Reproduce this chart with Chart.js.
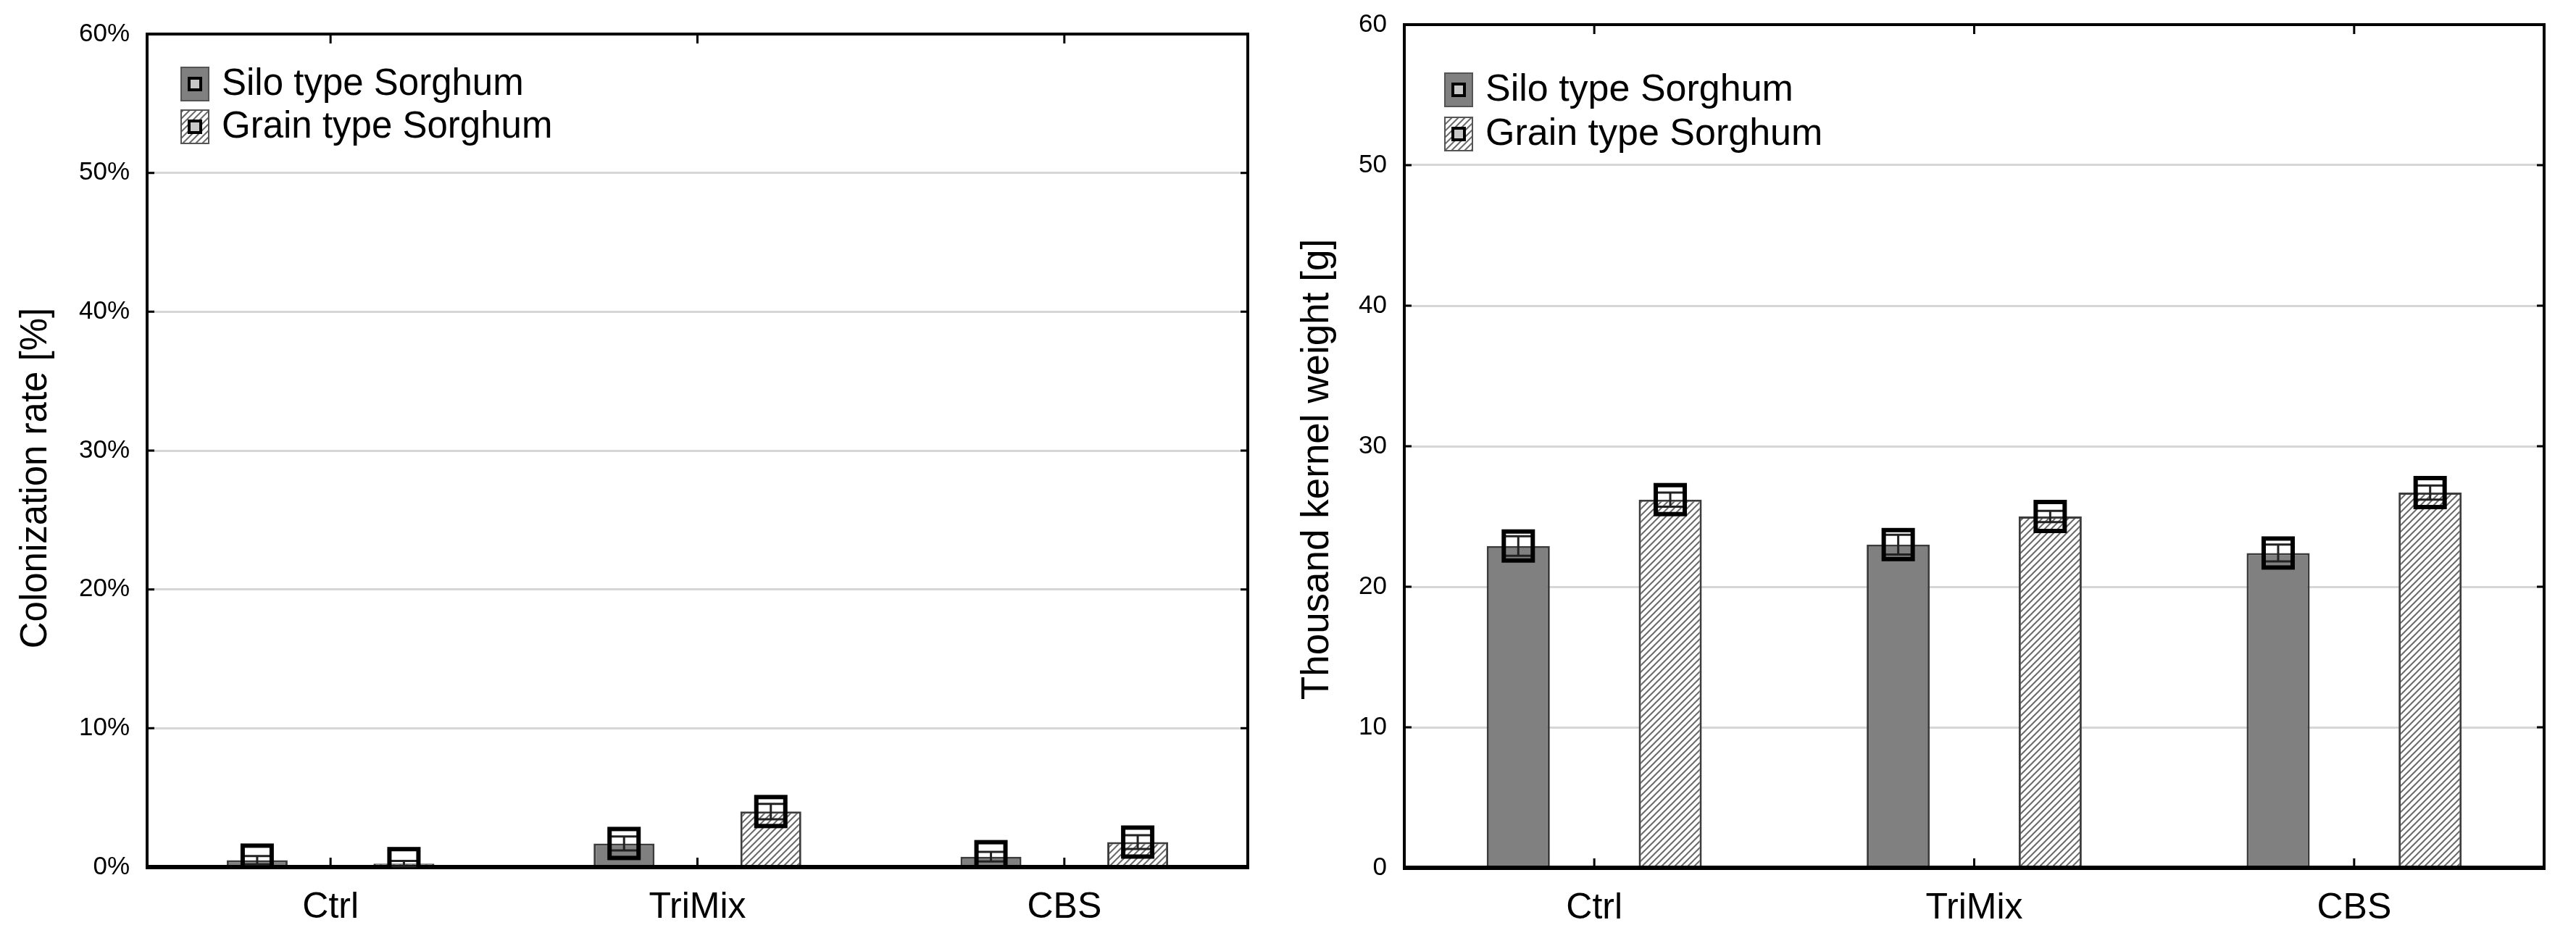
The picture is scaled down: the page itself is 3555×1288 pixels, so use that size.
<!DOCTYPE html>
<html>
<head>
<meta charset="utf-8">
<script src="https://cdn.jsdelivr.net/npm/chart.js@4.4.1/dist/chart.umd.min.js"></script>
<style>
  html, body { margin: 0; padding: 0; background: #fff; }
  #left { position: absolute; left: 0; top: 0; width: 1770px; height: 1288px; }
  #right { position: absolute; left: 1770px; top: 0; width: 1785px; height: 1288px; }
</style>
</head>
<body>
<div id="left"><canvas id="colonization-chart"></canvas></div>
<div id="right"><canvas id="weight-chart"></canvas></div>
<script>
// Categories and series
const treatments = ["Ctrl", "TriMix", "CBS"];
const seriesNames = ["Silo type Sorghum", "Grain type Sorghum"];

// Colonization rate [%] (mean and SE)
const siloColonization = [0.5, 1.7, 0.75];
const grainColonization = [0.25, 4.0, 1.8];
const siloColonizationSE = [0.3, 0.5, 0.35];
const grainColonizationSE = [0.2, 0.55, 0.5];
const colonizationTicks = [0, 10, 20, 30, 40, 50, 60];

// Thousand kernel weight [g] (mean and SE)
const siloWeight = [22.9, 23.0, 22.4];
const grainWeight = [26.2, 25.0, 26.7];
const siloWeightSE = [0.7, 0.7, 0.6];
const grainWeightSE = [0.5, 0.4, 0.5];
const weightTicks = [0, 10, 20, 30, 40, 50, 60];

const FONT = "'Liberation Sans', Arial, sans-serif";

// diagonal hatch for the grain type bars
function makeHatch() {
  const c = document.createElement("canvas");
  c.width = 9;
  c.height = 9;
  const g = c.getContext("2d");
  g.fillStyle = "#ffffff";
  g.fillRect(0, 0, 9, 9);
  g.strokeStyle = "#6a6a6a";
  g.lineWidth = 2;
  g.beginPath();
  g.moveTo(0, 9); g.lineTo(9, 0);
  g.moveTo(-3, 3); g.lineTo(3, -3);
  g.moveTo(6, 12); g.lineTo(12, 6);
  g.stroke();
  return g.createPattern(c, "repeat");
}
const hatch = makeHatch();

// frame, inner tick marks, mean markers with SE whiskers, legend and axis title
const sketchPlugin = {
  id: "sketch",
  afterDatasetsDraw(chart, args, opts) {
    const ctx = chart.ctx;
    const a = chart.chartArea;
    const x = chart.scales.x;
    const y = chart.scales.y;

    ctx.save();
    ctx.strokeStyle = "#000";
    ctx.lineWidth = 3;
    ctx.beginPath();
    y.ticks.forEach((t, i) => {
      if (t.value === y.min || t.value === y.max) return;
      const py = y.getPixelForTick(i);
      ctx.moveTo(a.left, py); ctx.lineTo(a.left + 10, py);
      ctx.moveTo(a.right, py); ctx.lineTo(a.right - 10, py);
    });
    x.ticks.forEach((t, i) => {
      const px = x.getPixelForTick(i);
      ctx.moveTo(px, a.bottom); ctx.lineTo(px, a.bottom - 13);
      ctx.moveTo(px, a.top); ctx.lineTo(px, a.top + 13);
    });
    ctx.stroke();

    ctx.lineWidth = 4;
    ctx.strokeRect(a.left, a.top, a.right - a.left, a.bottom - a.top);
    ctx.lineWidth = 6;
    ctx.beginPath();
    ctx.moveTo(a.left - 2, a.bottom);
    ctx.lineTo(a.right + 2, a.bottom);
    ctx.stroke();

    // mean markers
    ctx.beginPath();
    ctx.rect(a.left, a.top, a.right - a.left, a.bottom - a.top + 3);
    ctx.clip();
    chart.data.datasets.forEach((ds, di) => {
      const meta = chart.getDatasetMeta(di);
      meta.data.forEach((bar, i) => {
        const v = ds.data[i];
        const se = ds.se[i];
        const cx = bar.x;
        const cy = y.getPixelForValue(v);
        const hi = y.getPixelForValue(v + se);
        const lo = y.getPixelForValue(v - se);
        ctx.strokeStyle = "#222";
        ctx.lineWidth = 3;
        ctx.beginPath();
        ctx.moveTo(cx - 19, hi); ctx.lineTo(cx + 19, hi);
        ctx.moveTo(cx - 19, lo); ctx.lineTo(cx + 19, lo);
        ctx.moveTo(cx, hi); ctx.lineTo(cx, lo);
        ctx.stroke();
        ctx.strokeStyle = "#000";
        ctx.lineWidth = 6;
        ctx.strokeRect(cx - 20, cy - 20, 40, 40);
      });
    });
    ctx.restore();
  },
  afterDraw(chart, args, opts) {
    const ctx = chart.ctx;
    const a = chart.chartArea;
    ctx.save();
    chart.data.datasets.forEach((ds, i) => {
      const cy = a.top + opts.firstRow + i * opts.rowGap;
      const bx = a.left + opts.boxLeft;
      ctx.fillStyle = ds.backgroundColor;
      ctx.fillRect(bx, cy - 23, 38, 46);
      ctx.strokeStyle = "#555";
      ctx.lineWidth = 2;
      ctx.strokeRect(bx, cy - 23, 38, 46);
      ctx.fillStyle = "#c8c8c8";
      ctx.fillRect(bx + 11, cy - 8, 16, 16);
      ctx.strokeStyle = "#000";
      ctx.lineWidth = 4;
      ctx.strokeRect(bx + 11, cy - 8, 16, 16);
      ctx.fillStyle = "#000";
      ctx.font = opts.legendSize + "px " + FONT;
      ctx.textBaseline = "middle";
      ctx.textAlign = "left";
      ctx.fillText(ds.label, bx + 56, cy + 1);
    });

    // rotated y axis title
    ctx.translate(opts.titleX, opts.titleY);
    ctx.rotate(-Math.PI / 2);
    ctx.font = opts.titleSize + "px " + FONT;
    ctx.textAlign = "center";
    ctx.textBaseline = "middle";
    ctx.fillStyle = "#000";
    ctx.fillText(opts.title, 0, 0);
    ctx.restore();
  },
};

function makeChart(canvasId, silo, grain, siloSE, grainSE, tickValues, cfg) {
  const ctx = document.getElementById(canvasId).getContext("2d");
  return new Chart(ctx, {
    type: "bar",
    data: {
      labels: treatments,
      datasets: [
        {
          label: seriesNames[0],
          data: silo,
          se: siloSE,
          backgroundColor: "#808080",
          borderColor: "#3c3c3c",
          borderWidth: 3,
        },
        {
          label: seriesNames[1],
          data: grain,
          se: grainSE,
          backgroundColor: hatch,
          borderColor: "#3c3c3c",
          borderWidth: 3,
        },
      ],
    },
    options: {
      responsive: true,
      maintainAspectRatio: false,
      devicePixelRatio: 1,
      animation: false,
      events: [],
      categoryPercentage: 0.8,
      barPercentage: 0.415,
      layout: { padding: cfg.padding },
      plugins: {
        legend: { display: false },
        tooltip: { enabled: false },
        sketch: cfg.sketch,
      },
      scales: {
        x: {
          grid: { display: false },
          border: { display: false },
          ticks: { color: "#000", font: { family: FONT, size: 50 }, padding: 18 },
          afterFit: (s) => {
            s.height = cfg.xHeight;
            s.paddingLeft = 0;
            s.paddingRight = 0;
          },
        },
        y: {
          min: 0,
          max: 60,
          afterBuildTicks: (s) => {
            s.ticks = tickValues.map((v) => ({ value: v }));
          },
          grid: {
            drawTicks: false,
            lineWidth: 3,
            color: (c) => (c.tick && (c.tick.value === 0 || c.tick.value === 60) ? "rgba(0,0,0,0)" : "#d6d6d6"),
          },
          border: { display: false },
          ticks: {
            color: "#000",
            font: { family: FONT, size: 35 },
            padding: 24,
            callback: (v) => v + cfg.unit,
          },
          afterFit: (s) => {
            s.width = cfg.yWidth;
            s.paddingTop = 0;
            s.paddingBottom = 0;
          },
        },
      },
    },
    plugins: [sketchPlugin],
  });
}

makeChart("colonization-chart", siloColonization, grainColonization,
  siloColonizationSE, grainColonizationSE, colonizationTicks, {
    padding: { top: 47, right: 48, bottom: 0, left: 0 },
    xHeight: 91,
    yWidth: 203,
    unit: "%",
    sketch: {
      boxLeft: 47, firstRow: 69, rowGap: 59, legendSize: 51,
      title: "Colonization rate [%]", titleSize: 51, titleX: 50, titleY: 660,
    },
  });

makeChart("weight-chart", siloWeight, grainWeight,
  siloWeightSE, grainWeightSE, weightTicks, {
    padding: { top: 34, right: 44, bottom: 0, left: 0 },
    xHeight: 90,
    yWidth: 168,
    unit: "",
    sketch: {
      boxLeft: 56, firstRow: 90, rowGap: 61, legendSize: 52,
      title: "Thousand kernel weight [g]", titleSize: 53, titleX: 48, titleY: 648,
    },
  });
</script>
</body>
</html>
